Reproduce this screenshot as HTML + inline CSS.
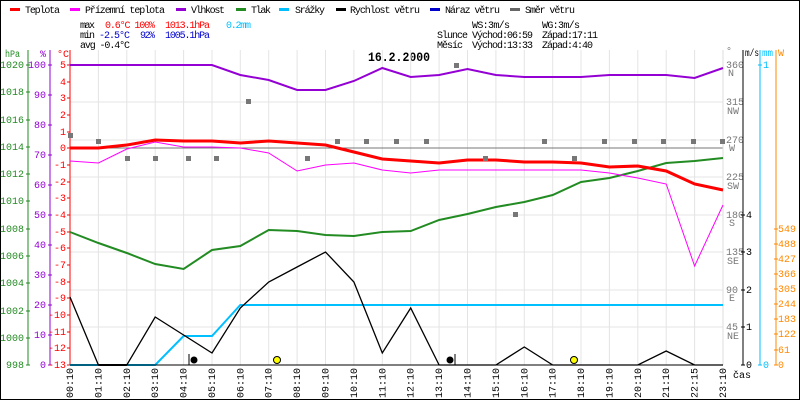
<!DOCTYPE html>
<html><head><meta charset="utf-8"><style>
body{margin:0;background:#fff}
svg{display:block;font-family:"Liberation Mono",monospace;font-size:10px}
</style></head><body>
<svg width="800" height="400" viewBox="0 0 800 400" xmlns="http://www.w3.org/2000/svg">
<rect x="0.5" y="0.5" width="799" height="399" fill="#fff" stroke="#000"/>
<!-- legend -->
<g font-size="10" lengthAdjust="spacingAndGlyphs">
<rect x="10" y="8" width="10" height="3" fill="#f00"/><text x="25" y="13" textLength="35">Teplota</text>
<rect x="70" y="8" width="10" height="3" fill="#f0f"/><text x="85" y="13" textLength="80">Přízemní teplota</text>
<rect x="176" y="8" width="10" height="3" fill="#9400d3"/><text x="191" y="13" textLength="34">Vlhkost</text>
<rect x="236" y="8" width="10" height="3" fill="#228b22"/><text x="251" y="13" textLength="20">Tlak</text>
<rect x="279" y="8" width="10" height="3" fill="#00bfff"/><text x="295" y="13" textLength="30">Srážky</text>
<rect x="336" y="8" width="10" height="3" fill="#000"/><text x="350" y="13" textLength="70">Rychlost větru</text>
<rect x="430" y="8" width="10" height="3" fill="#00c"/><text x="445" y="13" textLength="55">Náraz větru</text>
<rect x="510" y="8" width="10" height="3" fill="#666"/><text x="525" y="13" textLength="50">Směr větru</text>
<text x="80" y="28" textLength="15">max</text><text x="105" y="28" fill="#f00" textLength="50">0.6°C 100%</text><text x="165" y="28" fill="#f00" textLength="45">1013.1hPa</text><text x="226" y="28" fill="#00bfff" textLength="25">0.2mm</text>
<text x="80" y="38" textLength="15">min</text><text x="99" y="38" fill="#00c" textLength="31">-2.5°C</text><text x="140" y="38" fill="#00c" textLength="15">92%</text><text x="165" y="38" fill="#00c" textLength="45">1005.1hPa</text>
<text x="80" y="48" textLength="50">avg -0.4°C</text>
<text x="472" y="28" textLength="38">WS:3m/s</text><text x="542" y="28" textLength="38">WG:3m/s</text>
<text x="437" y="38" textLength="31">Slunce</text><text x="472" y="38" textLength="61">Východ:06:59</text><text x="542" y="38" textLength="56">Západ:17:11</text>
<text x="437" y="48" textLength="26">Měsíc</text><text x="472" y="48" textLength="61">Východ:13:33</text><text x="542" y="48" textLength="51">Západ:4:40</text>
</g>
<text x="368" y="61" font-weight="bold" font-size="13" textLength="62" lengthAdjust="spacingAndGlyphs">16.2.2000</text>
<!-- grid -->
<g stroke="#e4e4e4">
<line x1="70" x2="723" y1="102" y2="102"/><line x1="70" x2="723" y1="140" y2="140"/><line x1="70" x2="723" y1="177" y2="177"/><line x1="70" x2="723" y1="215" y2="215"/><line x1="70" x2="723" y1="252" y2="252"/><line x1="70" x2="723" y1="290" y2="290"/><line x1="70" x2="723" y1="327" y2="327"/>
<path d="M98.4 50V365M126.8 50V365M155.2 50V365M183.6 50V365M212 50V365M240.3 50V365M268.7 50V365M297.1 50V365M325.5 50V365M353.9 50V365M382.3 50V365M410.7 50V365M439.1 50V365M467.5 50V365M495.9 50V365M524.3 50V365M552.7 50V365M581 50V365M609.4 50V365M637.8 50V365M666.2 50V365M694.6 50V365M723 50V365"/>
</g>
<line x1="70" x2="723" y1="148" y2="148" stroke="#777"/>
<!-- left axes -->
<g font-size="10">
<line x1="28" y1="50" x2="28" y2="365" stroke="#228b22"/>
<path stroke="#228b22" d="M26 65h4M26 92h4M26 120h4M26 147h4M26 174h4M26 201h4M26 229h4M26 256h4M26 283h4M26 311h4M26 338h4M26 365h4"/>
<text x="5" y="57" fill="#228b22" textLength="15" lengthAdjust="spacingAndGlyphs">hPa</text>
<g fill="#228b22" text-anchor="end">
<text x="24" y="68">1020</text><text x="24" y="95">1018</text><text x="24" y="123">1016</text><text x="24" y="150">1014</text><text x="24" y="177">1012</text><text x="24" y="204">1010</text><text x="24" y="232">1008</text><text x="24" y="259">1006</text><text x="24" y="286">1004</text><text x="24" y="314">1002</text><text x="24" y="341">1000</text><text x="24" y="368">998</text></g>
<line x1="50" y1="50" x2="50" y2="365" stroke="#9400d3"/>
<path stroke="#9400d3" d="M48 65h4M48 95h4M48 125h4M48 155h4M48 185h4M48 215h4M48 245h4M48 275h4M48 305h4M48 335h4M48 365h4"/>
<text x="40" y="57" fill="#9400d3">%</text>
<g fill="#9400d3" text-anchor="end">
<text x="46" y="68">100</text><text x="46" y="98">90</text><text x="46" y="128">80</text><text x="46" y="158">70</text><text x="46" y="188">60</text><text x="46" y="218">50</text><text x="46" y="248">40</text><text x="46" y="278">30</text><text x="46" y="308">20</text><text x="46" y="338">10</text><text x="46" y="368">0</text></g>
<line x1="70" y1="50" x2="70" y2="365" stroke="#f00"/>
<path stroke="#f00" d="M67 65h3M67 82h3M67 98h3M67 115h3M67 132h3M67 148h3M67 165h3M67 182h3M67 198h3M67 215h3M67 232h3M67 248h3M67 265h3M67 282h3M67 298h3M67 315h3M67 332h3M67 348h3M67 365h3"/>
<text x="57" y="57" fill="#f00">°C</text>
<g fill="#f00" text-anchor="end">
<text x="66" y="68">5</text><text x="66" y="85">4</text><text x="66" y="101">3</text><text x="66" y="118">2</text><text x="66" y="135">1</text><text x="66" y="151">0</text><text x="66" y="168">-1</text><text x="66" y="185">-2</text><text x="66" y="201">-3</text><text x="66" y="218">-4</text><text x="66" y="235">-5</text><text x="66" y="251">-6</text><text x="66" y="268">-7</text><text x="66" y="285">-8</text><text x="66" y="301">-9</text><text x="66" y="318">-10</text><text x="66" y="335">-11</text><text x="66" y="351">-12</text><text x="66" y="368">-13</text></g>
</g>
<!-- right axes -->
<g font-size="10">
<line x1="723" y1="50" x2="723" y2="365" stroke="#ddd"/>
<text x="726" y="54" fill="#777">°</text>
<g fill="#777">
<text x="726" y="68">360</text><text x="728" y="76">N</text>
<text x="726" y="105">315</text><text x="727" y="114">NW</text>
<text x="726" y="143">270</text><text x="729" y="151">W</text>
<text x="726" y="180">225</text><text x="727" y="189">SW</text>
<text x="726" y="218">180</text><text x="729" y="226">S</text>
<text x="726" y="255">135</text><text x="727" y="264">SE</text>
<text x="726" y="293">90</text><text x="729" y="301">E</text>
<text x="726" y="330">45</text><text x="727" y="339">NE</text></g>
<line x1="743" y1="50" x2="743" y2="365" stroke="#000"/>
<path stroke="#000" d="M741 215h4M741 252h4M741 290h4M741 327h4M741 365h4"/>
<text x="745" y="56" textLength="14" lengthAdjust="spacingAndGlyphs">m/s</text>
<text x="746" y="218">4</text><text x="746" y="255">3</text><text x="746" y="293">2</text><text x="746" y="330">1</text><text x="746" y="368">0</text>
<line x1="760" y1="50" x2="760" y2="365" stroke="#00bfff"/>
<path stroke="#00bfff" d="M758 65h4M758 365h4"/>
<g fill="#00bfff"><text x="762" y="56" textLength="11" lengthAdjust="spacingAndGlyphs">mm</text><text x="763" y="68">1</text><text x="763" y="368">0</text></g>
<line x1="776" y1="50" x2="776" y2="365" stroke="#f80"/>
<path stroke="#f80" d="M774 229h4M774 244h4M774 259h4M774 274h4M774 289h4M774 304h4M774 319h4M774 334h4M774 350h4M774 365h4"/>
<g fill="#f80"><text x="778" y="56">W</text>
<text x="778" y="232">549</text><text x="778" y="247">488</text><text x="778" y="262">427</text><text x="778" y="277">366</text><text x="778" y="292">305</text><text x="778" y="307">244</text><text x="778" y="322">183</text><text x="778" y="337">122</text><text x="778" y="353">61</text><text x="778" y="368">0</text></g>
<text x="733" y="378">čas</text>
</g>
<!-- x labels -->
<g font-size="10">
<g transform="translate(73,398) rotate(-90)"><text>00:10</text></g>
<g transform="translate(101.4,398) rotate(-90)"><text>01:10</text></g>
<g transform="translate(129.8,398) rotate(-90)"><text>02:10</text></g>
<g transform="translate(158.2,398) rotate(-90)"><text>03:10</text></g>
<g transform="translate(186.6,398) rotate(-90)"><text>04:10</text></g>
<g transform="translate(215,398) rotate(-90)"><text>05:10</text></g>
<g transform="translate(243.3,398) rotate(-90)"><text>06:10</text></g>
<g transform="translate(271.7,398) rotate(-90)"><text>07:10</text></g>
<g transform="translate(300.1,398) rotate(-90)"><text>08:10</text></g>
<g transform="translate(328.5,398) rotate(-90)"><text>09:10</text></g>
<g transform="translate(356.9,398) rotate(-90)"><text>10:10</text></g>
<g transform="translate(385.3,398) rotate(-90)"><text>11:10</text></g>
<g transform="translate(413.7,398) rotate(-90)"><text>12:10</text></g>
<g transform="translate(442.1,398) rotate(-90)"><text>13:10</text></g>
<g transform="translate(470.5,398) rotate(-90)"><text>14:10</text></g>
<g transform="translate(498.9,398) rotate(-90)"><text>15:10</text></g>
<g transform="translate(527.3,398) rotate(-90)"><text>16:10</text></g>
<g transform="translate(555.7,398) rotate(-90)"><text>17:10</text></g>
<g transform="translate(584,398) rotate(-90)"><text>18:10</text></g>
<g transform="translate(612.4,398) rotate(-90)"><text>19:10</text></g>
<g transform="translate(640.8,398) rotate(-90)"><text>20:10</text></g>
<g transform="translate(669.2,398) rotate(-90)"><text>21:10</text></g>
<g transform="translate(697.6,398) rotate(-90)"><text>22:15</text></g>
<g transform="translate(726,398) rotate(-90)"><text>23:10</text></g>
</g>
<!-- series -->
<g fill="none">
<polyline stroke="#228b22" stroke-width="2" points="70,232 98.4,243 126.8,253 155.2,264 183.6,269 212,250 240.3,246 268.7,230 297.1,231 325.5,235 353.9,236 382.3,232 410.7,231 439.1,220 467.5,214 495.9,207 524.3,202 552.7,195 581,182 609.4,178 637.8,171 666.2,163 694.6,161 723,158"/>
<polyline stroke="#9400d3" stroke-width="2" points="70,65 98.4,65 126.8,65 155.2,65 183.6,65 212,65 240.3,75 268.7,80 297.1,90 325.5,90 353.9,81 382.3,68 410.7,77 439.1,75 467.5,69 495.9,75 524.3,77 552.7,77 581,77 609.4,75 637.8,75 666.2,75 694.6,78 723,68"/>
<polyline stroke="#f0f" stroke-width="1" points="70,161 98.4,163 126.8,149 155.2,142 183.6,147 212,147 240.3,148 268.7,153 297.1,171 325.5,165 353.9,163 382.3,170 410.7,173 439.1,170 467.5,170 495.9,170 524.3,170 552.7,170 581,170 609.4,173 637.8,178 666.2,184 694.6,266 723,205"/>
<polyline stroke="#f00" stroke-width="3" points="70,148 98.4,148 126.8,145 155.2,140 183.6,141 212,141 240.3,143 268.7,141 297.1,143 325.5,145 353.9,152 382.3,159 410.7,161 439.1,163 467.5,160 495.9,160 524.3,162 552.7,162 581,163 609.4,167 637.8,166 666.2,171 694.6,184 723,190"/>
<polyline stroke="#00bfff" stroke-width="2" points="70,365 155.2,365 183.6,336 212,336 240.3,305 723,305"/>
<polyline stroke="#000" stroke-width="1.3" points="70,297 98.4,365 126.8,365 155.2,317 183.6,335 212,353 240.3,308 268.7,282 297.1,267 325.5,252 353.9,282 382.3,353 410.7,308 439.1,365 467.5,365 495.9,365 524.3,347 552.7,365 581,365 609.4,365 637.8,365 666.2,351 694.6,365 723,365"/>
<line x1="98.4" x2="126.8" y1="365" y2="365" stroke="#000" stroke-width="2"/>
<line x1="70" x2="723" y1="365" y2="365" stroke="#000" stroke-width="1"/>
</g>
<g fill="#777">
<rect x="68" y="133" width="5" height="5"/><rect x="96" y="139" width="5" height="5"/><rect x="125" y="156" width="5" height="5"/><rect x="153" y="156" width="5" height="5"/><rect x="186" y="156" width="5" height="5"/><rect x="214" y="156" width="5" height="5"/><rect x="246" y="99" width="5" height="5"/><rect x="305" y="156" width="5" height="5"/><rect x="335" y="139" width="5" height="5"/><rect x="364" y="139" width="5" height="5"/><rect x="394" y="139" width="5" height="5"/><rect x="424" y="139" width="5" height="5"/><rect x="454" y="63" width="5" height="5"/><rect x="483" y="156" width="5" height="5"/><rect x="513" y="212" width="5" height="5"/><rect x="542" y="139" width="5" height="5"/><rect x="572" y="156" width="5" height="5"/><rect x="602" y="139" width="5" height="5"/><rect x="632" y="139" width="5" height="5"/><rect x="661" y="139" width="5" height="5"/><rect x="691" y="139" width="5" height="5"/><rect x="720" y="139" width="5" height="5"/>
</g>
<circle cx="194" cy="360" r="3.5" fill="#000"/>
<circle cx="277" cy="360" r="3.5" fill="#ff0" stroke="#000"/>
<circle cx="450" cy="360" r="3.5" fill="#000"/>
<circle cx="574" cy="360" r="3.5" fill="#ff0" stroke="#000"/>
<line x1="189" y1="354" x2="189" y2="365" stroke="#000"/>
<line x1="455" y1="354" x2="455" y2="365" stroke="#000"/>
</svg>
</body></html>
